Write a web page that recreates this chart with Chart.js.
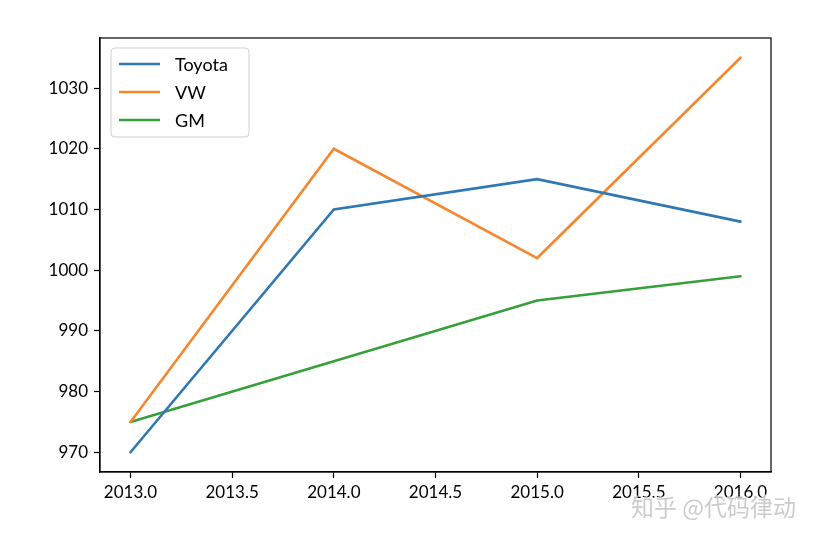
<!DOCTYPE html>
<html>
<head>
<meta charset="utf-8">
<script src="https://cdn.jsdelivr.net/npm/chart.js@4"></script>
<style>
  html, body { margin: 0; padding: 0; background: #fff; }
  #wrap { width: 814px; height: 540px; }
</style>
</head>
<body>
<div id="wrap"><canvas id="grafica"></canvas></div>
<script>
// datos
var years = [2013, 2014, 2015, 2016];
var toyotaData = [970, 1010, 1015, 1008];
var vwData = [975, 1020, 1002, 1035];
var gmData = [975, 985, 995, 999];
var xTicks = [2013.0, 2013.5, 2014.0, 2014.5, 2015.0, 2015.5, 2016.0];
var yTicks = [970, 980, 990, 1000, 1010, 1020, 1030];
var seriesNames = ['Toyota', 'VW', 'GM'];
var seriesColors = ['#2f78b2', '#f5872e', '#37a03a'];
var watermark = '知乎 @代码律动';

var font = "'Lato', 'DejaVu Sans', sans-serif";

function puntos(vals) {
    return years.map(function (y, i) { return { x: y, y: vals[i] }; });
}

// marco, leyenda y marca de agua
var extras = {
    id: 'extras',
    afterDatasetsDraw: function (chart) {
        var ctx = chart.ctx, a = chart.chartArea;
        ctx.save();
        ctx.strokeStyle = '#000';
        ctx.lineWidth = 1.2;
        ctx.strokeRect(a.left, a.top, a.right - a.left, a.bottom - a.top);

        // leyenda
        var lx = 111, ly = 48, lw = 138, lh = 89, r = 4;
        ctx.beginPath();
        ctx.moveTo(lx + r, ly);
        ctx.arcTo(lx + lw, ly, lx + lw, ly + lh, r);
        ctx.arcTo(lx + lw, ly + lh, lx, ly + lh, r);
        ctx.arcTo(lx, ly + lh, lx, ly, r);
        ctx.arcTo(lx, ly, lx + lw, ly, r);
        ctx.closePath();
        ctx.fillStyle = 'rgba(255,255,255,0.8)';
        ctx.fill();
        ctx.strokeStyle = '#d0d0d0';
        ctx.lineWidth = 1;
        ctx.stroke();
        ctx.font = '18px ' + font;
        ctx.textBaseline = 'middle';
        chart.data.datasets.forEach(function (ds, i) {
            var yy = 64 + i * 28;
            ctx.strokeStyle = ds.borderColor;
            ctx.lineWidth = 2.5;
            ctx.beginPath();
            ctx.moveTo(119, yy);
            ctx.lineTo(160, yy);
            ctx.stroke();
            ctx.fillStyle = '#000';
            ctx.fillText(ds.label, 175, yy + 1);
        });
        ctx.restore();
    },
    afterDraw: function (chart) {
        var ctx = chart.ctx;
        ctx.save();
        ctx.font = "23px 'Noto Sans CJK SC', sans-serif";
        ctx.textAlign = 'right';
        ctx.textBaseline = 'alphabetic';
        ctx.lineWidth = 3;
        ctx.strokeStyle = 'rgba(255,255,255,0.7)';
        ctx.strokeText(watermark, 796, 516);
        ctx.fillStyle = 'rgba(195,195,195,0.85)';
        ctx.fillText(watermark, 796, 516);
        ctx.restore();
    }
};

var ctx = document.getElementById('grafica').getContext('2d');
var myChart = new Chart(ctx, {
    type: 'line',
    data: {
        datasets: [
            { label: seriesNames[0], data: puntos(toyotaData), borderColor: seriesColors[0] },
            { label: seriesNames[1], data: puntos(vwData), borderColor: seriesColors[1] },
            { label: seriesNames[2], data: puntos(gmData), borderColor: seriesColors[2] }
        ]
    },
    options: {
        responsive: true,
        maintainAspectRatio: false,
        animation: false,
        elements: {
            line: { borderWidth: 2.6, tension: 0, fill: false, borderCapStyle: 'round' },
            point: { radius: 0, hoverRadius: 0 }
        },
        layout: { padding: { left: 0, right: 43, top: 38, bottom: 0 } },
        scales: {
            x: {
                type: 'linear',
                min: 2012.85,
                max: 2016.15,
                afterBuildTicks: function (s) { s.ticks = xTicks.map(function (v) { return { value: v }; }); },
                afterFit: function (s) { s.height = 68; },
                grid: { drawOnChartArea: false, drawTicks: true, tickLength: 6, color: '#000', tickWidth: 1.2 },
                border: { display: true, color: '#000', width: 1.2 },
                ticks: {
                    color: '#000',
                    font: { family: font, size: 17 },
                    padding: 4,
                    maxRotation: 0,
                    autoSkip: false,
                    callback: function (v) { return Number(v).toFixed(1); }
                }
            },
            y: {
                min: 966.75,
                max: 1038.25,
                afterBuildTicks: function (s) { s.ticks = yTicks.map(function (v) { return { value: v }; }); },
                afterFit: function (s) { s.width = 100; },
                grid: { drawOnChartArea: false, drawTicks: true, tickLength: 6, color: '#000', tickWidth: 1.2 },
                border: { display: true, color: '#000', width: 1.2 },
                ticks: {
                    color: '#000',
                    font: { family: font, size: 17 },
                    padding: 6,
                    autoSkip: false,
                    callback: function (v) { return String(v); }
                }
            }
        },
        plugins: {
            legend: { display: false },
            tooltip: { enabled: false }
        }
    },
    plugins: [extras]
});
</script>
</body>
</html>
